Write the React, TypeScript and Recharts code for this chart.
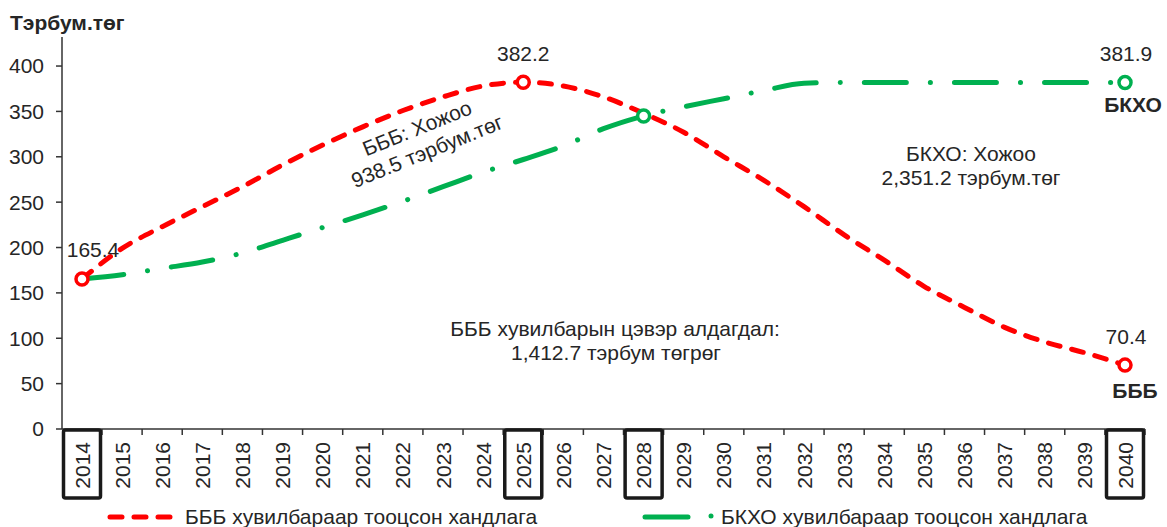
import React from "react";
import { LineChart, Line, XAxis, YAxis } from "recharts";

const years = [
  "2014", "2015", "2016", "2017", "2018", "2019", "2020", "2021", "2022",
  "2023", "2024", "2025", "2026", "2027", "2028", "2029", "2030", "2031",
  "2032", "2033", "2034", "2035", "2036", "2037", "2038", "2039", "2040",
];

// БББ хувилбар (red dashed)
const bbbValues = [
  165.4, 199, 223, 245, 267, 291, 313, 333, 351, 366, 378, 382.2, 378, 366,
  348, 327, 300, 274, 245, 214, 186, 157, 134, 112, 96, 84, 70.4,
];

// БКХО хувилбар (green dash-dot)
const bkhoValues = [
  165.4, 170, 177, 184, 194, 208, 222, 236, 251, 267, 283, 297, 312, 331,
  345, 355, 364, 373, 381, 381.9, 381.9, 381.9, 381.9, 381.9, 381.9, 381.9, 381.9,
];

const yTicks = [0, 50, 100, 150, 200, 250, 300, 350, 400];
const boxedYears = ["2014", "2025", "2028", "2040"];

const bbbMarked = ["2014", "2025", "2040"];
const bkhoMarked = ["2028", "2040"];

const RED = "#FF0000";
const GREEN = "#00B050";
const TEXT = "#262626";
const FONT = "'Liberation Sans', Arial, sans-serif";
const FS = 21;

const data = years.map((year, i) => ({
  year,
  bbb: bbbValues[i],
  bkho: bkhoValues[i],
}));

function YearTick(props: any) {
  const { x, y, payload } = props;
  const boxed = boxedYears.includes(payload.value);
  return (
    <g>
      <line x1={x + 20} y1={y} x2={x + 20} y2={y + 6} stroke="#333" strokeWidth={1.5} />
      <text
        x={x}
        y={y + 13}
        transform={`rotate(-90, ${x}, ${y + 13})`}
        textAnchor="end"
        dominantBaseline="central"
        fontSize={FS}
        fill={TEXT}
        fontFamily={FONT}
      >
        {payload.value}
      </text>
      {boxed && (
        <rect
          x={x - 18.5}
          y={y + 1}
          width={37}
          height={68}
          rx={2}
          fill="none"
          stroke="#1a1a1a"
          strokeWidth={3.5}
        />
      )}
    </g>
  );
}

type LabelPos = { dx: number; dy: number; hide?: boolean; bold?: string; bdx?: number; bdy?: number };

function makeDot(marked: string[], color: string, labels: Record<string, LabelPos>) {
  return (props: any) => {
    const { cx, cy, payload, value, index } = props;
    if (!marked.includes(payload.year)) return <g key={`d-${index}`} />;
    const l = labels[payload.year] || { dx: 0, dy: -29 };
    return (
      <g key={`d-${index}`}>
        <circle cx={cx} cy={cy} r={6} fill="#fff" stroke={color} strokeWidth={3.5} />
        {!l.hide && (
          <text
            x={cx + l.dx}
            y={cy + l.dy}
            textAnchor="middle"
            dominantBaseline="central"
            fontSize={FS}
            fill={TEXT}
            fontFamily={FONT}
          >
            {Array.isArray(value) ? value[1] : value}
          </text>
        )}
        {l.bold && (
          <text
            x={cx + (l.bdx || 0)}
            y={cy + (l.bdy || 0)}
            textAnchor="middle"
            dominantBaseline="central"
            fontSize={FS}
            fontWeight="bold"
            fill={TEXT}
            fontFamily={FONT}
          >
            {l.bold}
          </text>
        )}
      </g>
    );
  };
}

const bbbDot = makeDot(bbbMarked, RED, {
  "2014": { dx: 11, dy: -29 },
  "2025": { dx: 0, dy: -29 },
  "2040": { dx: 1, dy: -29, bold: "БББ", bdx: 10, bdy: 25 },
});

const bkhoDot = makeDot(bkhoMarked, GREEN, {
  "2028": { dx: 0, dy: 0, hide: true },
  "2040": { dx: 1, dy: -29, bold: "БКХО", bdx: 8, bdy: 22 },
});

export default function App() {
  return (
    <div style={{ position: "absolute", left: 0, top: 0, width: 1167, height: 527, background: "#fff", fontFamily: FONT }}>
      <LineChart
        width={1167}
        height={527}
        data={data}
        margin={{ top: 37, right: 22, left: 0, bottom: 0 }}
      >
        <XAxis
          dataKey="year"
          height={98}
          interval={0}
          padding={{ left: 20, right: 20 }}
          tickLine={false}
          tickSize={0}
          tickMargin={0}
          axisLine={{ stroke: "#333", strokeWidth: 1.5 }}
          tick={<YearTick />}
        />
        <YAxis
          width={62}
          domain={[0, 432]}
          ticks={yTicks}
          allowDataOverflow
          tickSize={6}
          tickMargin={12}
          axisLine={{ stroke: "#333", strokeWidth: 1.5 }}
          tickLine={{ stroke: "#333", strokeWidth: 1.5 }}
          tick={{ fontSize: FS, fill: TEXT, fontFamily: FONT }}
        />
        <Line
          type="monotone"
          dataKey="bkho"
          stroke={GREEN}
          strokeWidth={5}
          strokeLinecap="round"
          strokeDasharray="42 24 0.1 24"
          dot={bkhoDot}
          activeDot={false}
          isAnimationActive={false}
        />
        <Line
          type="monotone"
          dataKey="bbb"
          stroke={RED}
          strokeWidth={5}
          strokeLinecap="round"
          strokeDasharray="12 12"
          dot={bbbDot}
          activeDot={false}
          isAnimationActive={false}
        />
      </LineChart>

      <svg
        width={1167}
        height={527}
        style={{ position: "absolute", left: 0, top: 0, pointerEvents: "none" }}
        fontFamily={FONT}
      >
        <text x={10} y={22} fontSize={FS} fontWeight="bold" fill={TEXT} dominantBaseline="central">
          Тэрбум.төг
        </text>

        <g fontSize={FS} fill={TEXT} textAnchor="middle" dominantBaseline="central">
          <text transform="translate(417,128) rotate(-22)">БББ: Хожоо</text>
          <text transform="translate(427,151) rotate(-22)">938.5 тэрбум.төг</text>

          <text x={971} y={153}>БКХО: Хожоо</text>
          <text x={971} y={177}>2,351.2 тэрбум.төг</text>

          <text x={615} y={328}>БББ хувилбарын цэвэр алдагдал:</text>
          <text x={616} y={352}>1,412.7 тэрбум төгрөг</text>
        </g>

        {/* legend */}
        <line x1={110} y1={517} x2={172} y2={517} stroke={RED} strokeWidth={5} strokeLinecap="round" strokeDasharray="12 12" />
        <text x={185} y={516} fontSize={FS} fill={TEXT} dominantBaseline="central">
          БББ хувилбараар тооцсон хандлага
        </text>
        <line x1={645} y1={517} x2={688} y2={517} stroke={GREEN} strokeWidth={5} strokeLinecap="round" />
        <circle cx={711} cy={516} r={2.5} fill={GREEN} />
        <text x={721} y={516} fontSize={FS} fill={TEXT} dominantBaseline="central">
          БКХО хувилбараар тооцсон хандлага
        </text>
      </svg>
    </div>
  );
}
